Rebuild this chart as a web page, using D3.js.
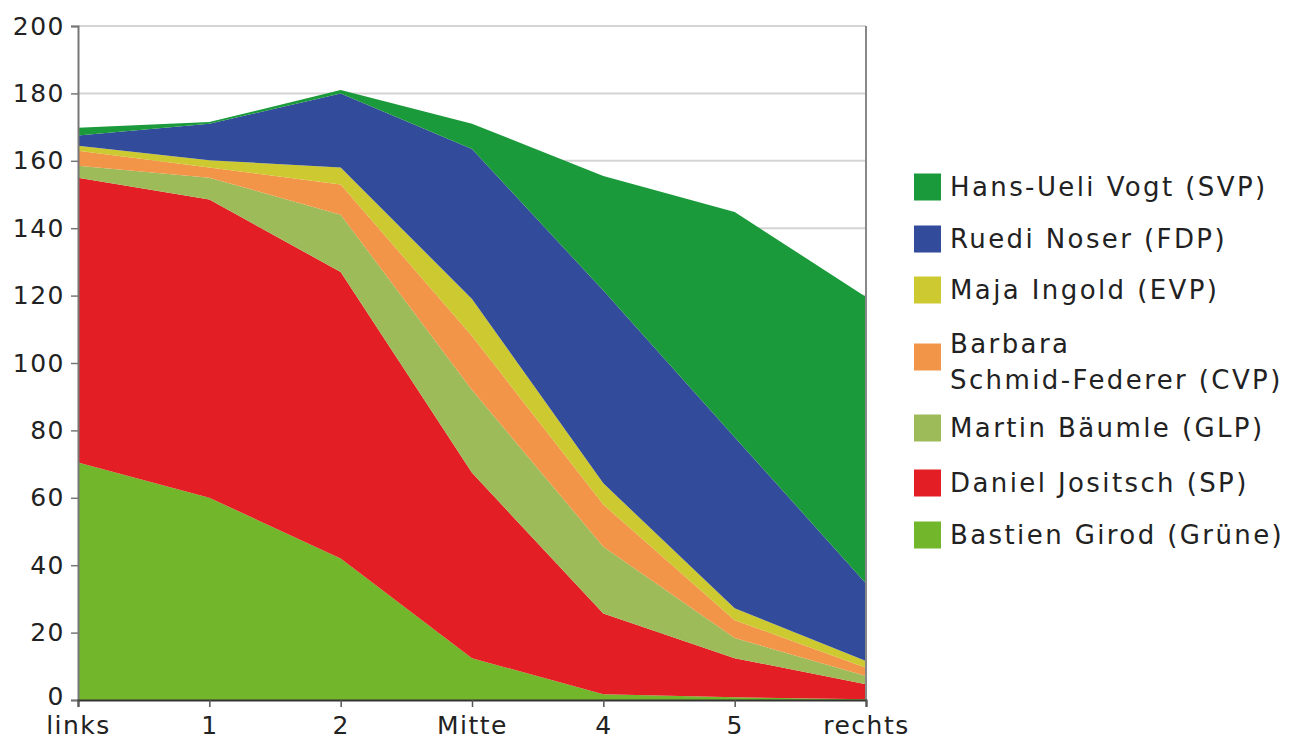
<!DOCTYPE html>
<html><head><meta charset="utf-8">
<script src="https://cdn.jsdelivr.net/npm/d3@7"></script>
<style>body{margin:0;background:#fff;} text{font-family:"DejaVu Sans",sans-serif;fill:#222;letter-spacing:1.5px;} .leg text{letter-spacing:2.4px;}</style>
</head><body>
<svg id="c" width="1291" height="740"></svg>
<script>
const categories = ["links","1","2","Mitte","4","5","rechts"];
// stacked bottom -> top
const seriesNames = ["Bastien Girod (Grüne)","Daniel Jositsch (SP)","Martin Bäumle (GLP)","Barbara Schmid-Federer (CVP)","Maja Ingold (EVP)","Ruedi Noser (FDP)","Hans-Ueli Vogt (SVP)"];
const grune = [70.5, 60, 42, 12.4, 1.7, 0.8, 0.2];
const sp    = [84.5, 88.5, 85, 55, 24, 11.6, 4.5];
const glp   = [3.5, 6.5, 17, 24.6, 19.8, 6, 2.4];
const cvp   = [4.5, 3, 9, 16, 12.5, 5.3, 2.5];
const evp   = [1.5, 2.2, 5, 11, 6.3, 3.5, 2];
const fdp   = [3, 10.8, 22, 44.5, 57.2, 50.8, 23];
const svp   = [2.3, 0.5, 1, 7.5, 34, 66.8, 85];
const yTicks = [0,20,40,60,80,100,120,140,160,180,200];
const colors = ["#72b62c","#e31e24","#9dbb59","#f39549","#cdc930","#324b9b","#1a9a3a"];
const legendOrder = [6,5,4,3,2,1,0];
const legendLabels = {3:["Barbara","Schmid-Federer (CVP)"]};

const values = [grune, sp, glp, cvp, evp, fdp, svp];
const table = categories.map((c,i)=>{ const o={cat:c}; seriesNames.forEach((s,j)=>o[s]=values[j][i]); return o; });

const svg = d3.select("#c");
const L=78, R=866, T=26, B=700;
const x = d3.scalePoint().domain(categories).range([L,R]);
const y = d3.scaleLinear().domain([0,200]).range([B,T]);

// gridlines
svg.append("g").selectAll("line").data(yTicks.filter(d=>d>0)).join("line")
  .attr("x1",L).attr("x2",R).attr("y1",d=>y(d)).attr("y2",d=>y(d))
  .attr("stroke","#d4d4d4").attr("stroke-width",2);

const stack = d3.stack().keys(seriesNames)(table);
const area = d3.area().x(d=>x(d.data.cat)).y0(d=>y(d[0])).y1(d=>y(d[1]));
svg.append("g").selectAll("path").data(stack).join("path")
  .attr("d",area).attr("fill",(d,i)=>colors[i]);

// right border
svg.append("line").attr("x1",R).attr("x2",R).attr("y1",T).attr("y2",B).attr("stroke","#888").attr("stroke-width",2);

// y axis
const ya = svg.append("g").attr("transform",`translate(${L},0)`)
  .call(d3.axisLeft(y).tickValues(yTicks).tickSize(7).tickPadding(6));
ya.select(".domain").attr("stroke","#777").attr("stroke-width",2);
ya.selectAll(".tick line").attr("stroke","#777").attr("stroke-width",1.5);
ya.selectAll("text").style("font-size","25px").attr("fill","#222")
  .attr("dy", d => d===0 ? "0.18em" : "0.32em");

// x axis
const xa = svg.append("g").attr("transform",`translate(0,${B})`)
  .call(d3.axisBottom(x).tickSize(7).tickPadding(9));
xa.select(".domain").attr("stroke","#333").attr("stroke-width",2);
xa.selectAll(".tick line").attr("stroke","#555").attr("stroke-width",1.5);
xa.selectAll("text").style("font-size","25px").attr("fill","#222");

// legend
const legY = [187,239,290,357,428,483,535];
const lg = svg.append("g").attr("class","leg");
legendOrder.forEach((si,k)=>{
  const cy = legY[k];
  lg.append("rect").attr("x",914).attr("y",cy-13.5).attr("width",27).attr("height",27).attr("fill",colors[si]);
  const lines = legendLabels[si] || [seriesNames[si]];
  const t = lg.append("text").attr("x",950).style("font-size","26px");
  if(lines.length===1){
    t.attr("y",cy).attr("dy","0.35em").text(lines[0]);
  } else {
    t.append("tspan").attr("x",950).attr("y",cy-13).attr("dy","0.35em").text(lines[0]);
    t.append("tspan").attr("x",950).attr("y",cy+23).attr("dy","0.35em").text(lines[1]);
  }
});
</script>
</body></html>
